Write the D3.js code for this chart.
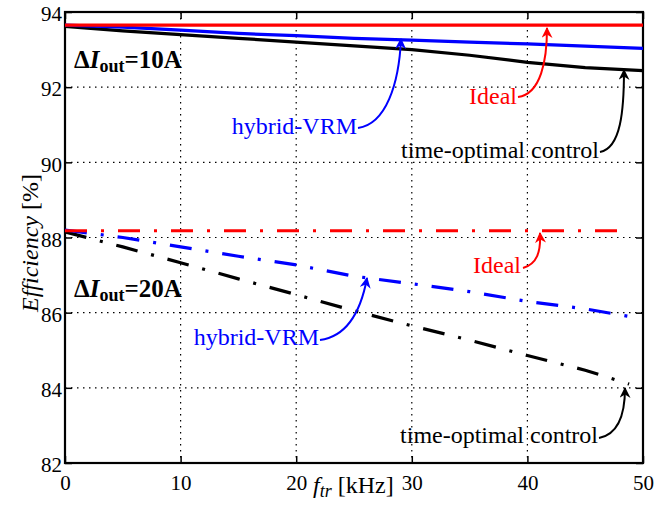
<!DOCTYPE html>
<html>
<head>
<meta charset="utf-8">
<script src="https://cdn.jsdelivr.net/npm/d3@7"></script>
<style>
  body { margin: 0; background: #fff; }
</style>
</head>
<body>
<svg id="chart" width="671" height="508"></svg>
<script>
// Switching frequency of the transient, kHz
const freq = [0, 5, 10, 15, 20, 25, 30, 35, 40, 45, 50];
const freq20 = [0, 5, 10, 15, 20, 25, 30, 35, 40, 45, 48.8];

// Efficiency [%] for a 10 A load step
const ideal10   = [93.65, 93.65, 93.65, 93.65, 93.65, 93.65, 93.65, 93.65, 93.65, 93.65, 93.65];
const hybrid10  = [93.65, 93.6, 93.52, 93.43, 93.37, 93.3, 93.25, 93.2, 93.15, 93.09, 93.03];
const optimal10 = [93.62, 93.5, 93.4, 93.3, 93.2, 93.1, 93.0, 92.85, 92.66, 92.52, 92.44];

// Efficiency [%] for a 20 A load step
const ideal20   = [88.18, 88.18, 88.18, 88.18, 88.18, 88.18, 88.18, 88.18, 88.18, 88.18, 88.18];
const hybrid20  = [88.2, 88.0, 87.75, 87.5, 87.27, 86.97, 86.77, 86.56, 86.3, 86.1, 85.9];
const optimal20 = [88.15, 87.75, 87.33, 86.9, 86.48, 86.05, 85.65, 85.27, 84.86, 84.47, 84.1];

const xTicks = [0, 10, 20, 30, 40, 50];
const yTicks = [82, 84, 86, 88, 90, 92, 94];

// pick the first installed Times-like face (width test against a monospace baseline)
function pickFont(cands) {
  const ctx = document.createElement("canvas").getContext("2d");
  const s = "time-optimal control WMil 0123";
  ctx.font = "40px monospace";
  const base = ctx.measureText(s).width;
  for (const f of cands) {
    ctx.font = `40px "${f}", monospace`;
    if (Math.abs(ctx.measureText(s).width - base) > 0.5) return `"${f}"`;
  }
  return "serif";
}
const FONT = pickFont(["Liberation Serif", "Times New Roman", "Tinos", "Nimbus Roman", "FreeSerif", "DejaVu Serif", "Noto Serif"]);

const svg = d3.select("#chart").style("font-family", FONT);
const L = 65, R = 643, T = 12, B = 463;

const x = d3.scaleLinear().domain([0, 50]).range([L, R]);
const y = d3.scaleLinear().domain([82, 94]).range([B, T]);

// dotted grid
const grid = svg.append("g").attr("stroke", "#000").attr("stroke-width", 1.2)
  .attr("stroke-dasharray", "1.5,4.5");
xTicks.slice(1, -1).forEach(t => grid.append("line")
  .attr("x1", x(t)).attr("x2", x(t)).attr("y1", T).attr("y2", B));
yTicks.slice(1, -1).forEach(t => grid.append("line")
  .attr("x1", L).attr("x2", R).attr("y1", y(t)).attr("y2", y(t)));

// axes with inward ticks on all four sides
const axFont = g => g.attr("font-family", null).selectAll("text")
  .attr("font-size", 21).style("font-family", FONT).attr("fill", "#000");
const axLine = g => { g.select(".domain").remove(); g.selectAll(".tick line").attr("stroke", "#000").attr("stroke-width", 1.5); };

svg.append("g").attr("transform", `translate(0,${B})`)
  .call(d3.axisBottom(x).tickValues(xTicks).tickSize(-7).tickPadding(12))
  .call(axLine).call(axFont);
svg.append("g").attr("transform", `translate(0,${T})`)
  .call(d3.axisTop(x).tickValues(xTicks).tickSize(-7).tickFormat(""))
  .call(axLine);
svg.append("g").attr("transform", `translate(${L},0)`)
  .call(d3.axisLeft(y).tickValues(yTicks).tickSize(-7).tickPadding(3))
  .call(axLine).call(axFont)
  .selectAll("text").attr("dy", "0.42em");
svg.append("g").attr("transform", `translate(${R},0)`)
  .call(d3.axisRight(y).tickValues(yTicks).tickSize(-7).tickFormat(""))
  .call(axLine);

// box
svg.append("rect").attr("x", L).attr("y", T).attr("width", R - L).attr("height", B - T)
  .attr("fill", "none").attr("stroke", "#000").attr("stroke-width", 2.2);

// curves
const line = d3.line().x(d => x(d[0])).y(d => y(d[1]));
const series = [
  { xs: freq, ys: optimal10, color: "#000", dash: null },
  { xs: freq, ys: hybrid10, color: "#0000ff", dash: null },
  { xs: freq, ys: ideal10, color: "#ff0000", dash: null },
  { xs: freq20, ys: optimal20, color: "#000", dash: "22,14,3,14" },
  { xs: freq20, ys: hybrid20, color: "#0000ff", dash: "22,14,3,14" },
  { xs: freq20, ys: ideal20, color: "#ff0000", dash: "22,14,3,14" }
];
series.forEach(s => {
  svg.append("path")
    .datum(s.xs.map((v, i) => [v, s.ys[i]]))
    .attr("d", line)
    .attr("fill", "none")
    .attr("stroke", s.color)
    .attr("stroke-width", 3.2)
    .attr("stroke-dasharray", s.dash);
});

// arrowhead markers
const defs = svg.append("defs");
["#000", "#0000ff", "#ff0000"].forEach((c, i) => {
  defs.append("marker").attr("id", "arr" + i)
    .attr("viewBox", "0 0 10 10").attr("refX", 9).attr("refY", 5)
    .attr("markerWidth", 11).attr("markerHeight", 11)
    .attr("markerUnits", "userSpaceOnUse")
    .attr("orient", "auto")
    .append("path").attr("d", "M0,0 L10,5 L0,10 L3,5 Z").attr("fill", c);
});

// annotations: label text plus a curved arrow ending at the curve
const notes = [
  { text: "Ideal", tx: 517, ty: 104, color: "#ff0000", m: 2, path: [[518, 97], [541, 94], [547, 60], [547, 28]] },
  { text: "hybrid-VRM", tx: 357, ty: 134, color: "#0000ff", m: 1, path: [[358, 128], [386, 124], [399, 84], [401, 39]] },
  { text: "time-optimal control", tx: 599, ty: 158, color: "#000", m: 0, path: [[600, 152], [621, 148], [624, 110], [624, 70]] },
  { text: "Ideal", tx: 521, ty: 273, color: "#ff0000", m: 2, path: [[523, 268], [537, 264], [541, 252], [540, 233]] },
  { text: "hybrid-VRM", tx: 319, ty: 345, color: "#0000ff", m: 1, path: [[320, 340], [350, 336], [362, 305], [367, 278]] },
  { text: "time-optimal control", tx: 598, ty: 443, color: "#000", m: 0, path: [[599, 438], [620, 434], [625, 412], [625, 388]] }
];
notes.forEach(n => {
  svg.append("text").attr("x", n.tx).attr("y", n.ty).attr("text-anchor", "end")
    .attr("font-size", 24).attr("fill", n.color).text(n.text);
  const p = d3.path();
  p.moveTo(...n.path[0]);
  p.bezierCurveTo(...n.path[1], ...n.path[2], ...n.path[3]);
  svg.append("path").attr("d", p.toString()).attr("fill", "none")
    .attr("stroke", n.color).attr("stroke-width", 2)
    .attr("marker-end", `url(#arr${n.m})`);
});

// load-step labels
[["10A", 68], ["20A", 297]].forEach(([v, yy]) => {
  const t = svg.append("text").attr("x", 74).attr("y", yy)
    .attr("font-size", 25).attr("font-weight", "bold").attr("fill", "#000");
  t.append("tspan").text("\u0394");
  t.append("tspan").attr("font-style", "italic").text("I");
  t.append("tspan").attr("font-size", 18).attr("dy", 4).text("out");
  t.append("tspan").attr("dy", -4).text("=" + v);
});

// axis titles
const xl = svg.append("text").attr("x", 313).attr("y", 493)
  .attr("font-size", 24).attr("fill", "#000");
xl.append("tspan").attr("font-style", "italic").text("f");
xl.append("tspan").attr("font-style", "italic").attr("font-size", 18).attr("dy", 4).text("tr");
xl.append("tspan").attr("dy", -4).text(" [kHz]");

const yl = svg.append("text").attr("transform", "translate(38,243) rotate(-90)")
  .attr("text-anchor", "middle").attr("font-size", 24).attr("fill", "#000");
yl.append("tspan").attr("font-style", "italic").text("Efficiency");
yl.append("tspan").text(" [%]");
</script>
</body>
</html>
